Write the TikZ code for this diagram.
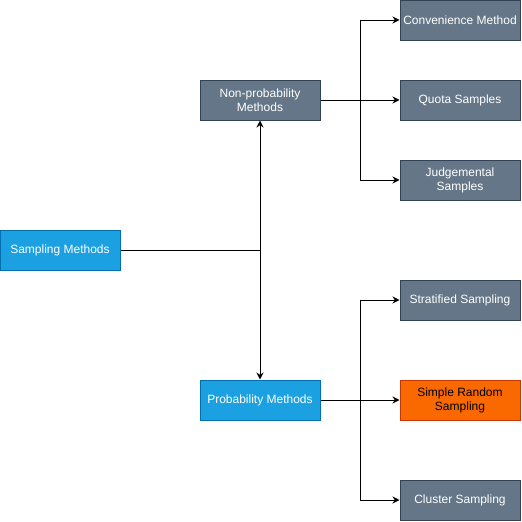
\documentclass[tikz,border=0pt]{standalone}
\usepackage{fontspec}
\setmainfont{Liberation Sans}
\usetikzlibrary{arrows.meta}

\definecolor{slate}{HTML}{647687}
\definecolor{slateline}{HTML}{314354}
\definecolor{sky}{HTML}{1BA1E2}
\definecolor{skyline}{HTML}{006EAF}
\definecolor{flame}{HTML}{FA6800}
\definecolor{flameline}{HTML}{C73500}

\begin{document}
\begin{tikzpicture}[x=1pt, y=-1pt, line width=1pt,
    box/.style={draw, minimum width=120pt, minimum height=40pt, inner sep=0pt,
                align=center, font=\fontsize{12}{14}\selectfont},
    grey/.style={box, fill=slate, draw=slateline, text=white},
    blue/.style={box, fill=sky, draw=skyline, text=white},
    orange/.style={box, fill=flame, draw=flameline, text=black},
    link/.style={-{Stealth[length=7pt, width=7pt]}}]

    % 1. Fix the canvas
    \useasboundingbox (0,0) rectangle (522,522);

    % 2. Root and the two main groups
    \node[blue] (root) at (60,250) {Sampling Methods};
    \node[grey] (non)  at (260,100) {Non-probability\\Methods};
    \node[blue] (prob) at (260,400) {Probability Methods};

    % 3. Non-probability leaves
    \node[grey] (conv)  at (460,20)  {Convenience Method};
    \node[grey] (quota) at (460,100) {Quota Samples};
    \node[grey] (judge) at (460,180) {Judgemental\\Samples};

    % 4. Probability leaves
    \node[grey]   (strat)  at (460,300) {Stratified Sampling};
    \node[orange] (simple) at (460,400) {Simple Random\\Sampling};
    \node[grey]   (clus)   at (460,500) {Cluster Sampling};

    % 5. Junctions where the lines split
    \coordinate (J)  at (260,250);
    \coordinate (N1) at (360,100);
    \coordinate (P1) at (360,400);

    % 6. Root to the groups
    \draw (root) -- (J);
    \draw[link] (J) -- (non);
    \draw[link] (J) -- (prob);

    % 7. Non-probability branches
    \draw (non) -- (N1);
    \draw[link] (N1) |- (conv);
    \draw[link] (N1) -- (quota);
    \draw[link] (N1) |- (judge);

    % 8. Probability branches
    \draw (prob) -- (P1);
    \draw[link] (P1) |- (strat);
    \draw[link] (P1) -- (simple);
    \draw[link] (P1) |- (clus);

\end{tikzpicture}
\end{document}
